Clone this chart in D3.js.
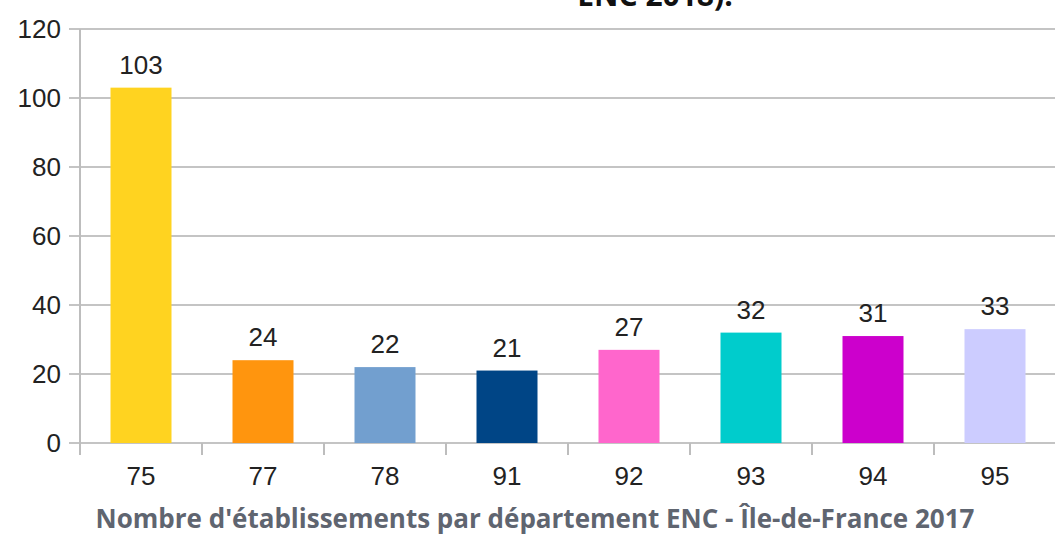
<!DOCTYPE html>
<html>
<head>
<meta charset="utf-8">
<script src="https://cdn.jsdelivr.net/npm/d3@7"></script>
<style>
  body { margin: 0; background: #fff; }
  svg { display: block; }
</style>
</head>
<body>
<div id="chart"></div>
<script>
// data
var departements = ["75", "77", "78", "91", "92", "93", "94", "95"];
var etablissements = [103, 24, 22, 21, 27, 32, 31, 33];
var couleurs = ["#ffd320", "#ff950e", "#729fcf", "#004586", "#ff66cc", "#00cccc", "#cc00cc", "#ccccff"];
var yTicks = [0, 20, 40, 60, 80, 100, 120];

var W = 1055, H = 536;
var margin = { top: 29, right: -1, bottom: 93, left: 80 },
    width = W - margin.left - margin.right,
    height = H - margin.top - margin.bottom;

var svg = d3.select("#chart")
    .append("svg")
    .attr("width", W)
    .attr("height", H);

var g = svg.append("g")
    .attr("transform", "translate(" + margin.left + "," + margin.top + ")");

var x = d3.scaleBand()
    .domain(departements)
    .range([0, width])
    .paddingInner(0.5)
    .paddingOuter(0.25);

var y = d3.scaleLinear()
    .domain([0, 120])
    .range([height, 0]);

// horizontal grid lines
g.append("g")
    .selectAll("line")
    .data(yTicks)
    .enter()
    .append("line")
    .attr("x1", -11)
    .attr("x2", width)
    .attr("y1", d => y(d))
    .attr("y2", d => y(d))
    .attr("stroke", "#c4c4c4")
    .attr("stroke-width", 2);

// y labels
g.append("g")
    .selectAll("text")
    .data(yTicks)
    .enter()
    .append("text")
    .attr("x", -19)
    .attr("y", d => y(d))
    .attr("dy", "0.36em")
    .attr("text-anchor", "end")
    .style("font-family", "'Liberation Sans', Arial, sans-serif")
    .style("font-size", "26px")
    .style("fill", "#222")
    .text(d => d);

// y axis line
g.append("line")
    .attr("x1", 0).attr("x2", 0)
    .attr("y1", 0).attr("y2", height + 12)
    .attr("stroke", "#bdbdbd")
    .attr("stroke-width", 2);

// x category separators
var step = x.step();
g.append("g")
    .selectAll("line")
    .data(departements)
    .enter()
    .append("line")
    .attr("x1", (d, i) => i * step)
    .attr("x2", (d, i) => i * step)
    .attr("y1", height)
    .attr("y2", height + 12)
    .attr("stroke", "#bdbdbd")
    .attr("stroke-width", 2);

// bars
g.append("g")
    .selectAll("rect")
    .data(etablissements)
    .enter()
    .append("rect")
    .attr("x", (d, i) => x(departements[i]))
    .attr("y", d => y(d))
    .attr("width", x.bandwidth())
    .attr("height", d => height - y(d))
    .style("fill", (d, i) => couleurs[i]);

// value labels
g.append("g")
    .selectAll("text")
    .data(etablissements)
    .enter()
    .append("text")
    .attr("x", (d, i) => x(departements[i]) + x.bandwidth() / 2)
    .attr("y", d => y(d) - 14)
    .attr("text-anchor", "middle")
    .style("font-family", "'Liberation Sans', Arial, sans-serif")
    .style("font-size", "26px")
    .style("fill", "#222")
    .text(d => d);

// x labels
g.append("g")
    .selectAll("text")
    .data(departements)
    .enter()
    .append("text")
    .attr("x", d => x(d) + x.bandwidth() / 2)
    .attr("y", height + 42)
    .attr("text-anchor", "middle")
    .style("font-family", "'Liberation Sans', Arial, sans-serif")
    .style("font-size", "26px")
    .style("fill", "#222")
    .text(d => d);

// bottom caption
svg.append("text")
    .attr("x", 535)
    .attr("y", 528)
    .attr("text-anchor", "middle")
    .style("font-family", "'Open Sans', sans-serif")
    .style("font-weight", "bold")
    .style("font-size", "26px")
    .style("fill", "#5f6570")
    .text("Nombre d'établissements par département ENC - Île-de-France 2017");

// title line, cut by the top edge as in the source
svg.append("text")
    .attr("x", 655)
    .attr("y", 6)
    .attr("text-anchor", "middle")
    .style("font-family", "'Open Sans', sans-serif")
    .style("font-weight", "bold")
    .style("font-size", "30px")
    .style("fill", "#111")
    .text("ENC 2018).");
</script>
</body>
</html>
